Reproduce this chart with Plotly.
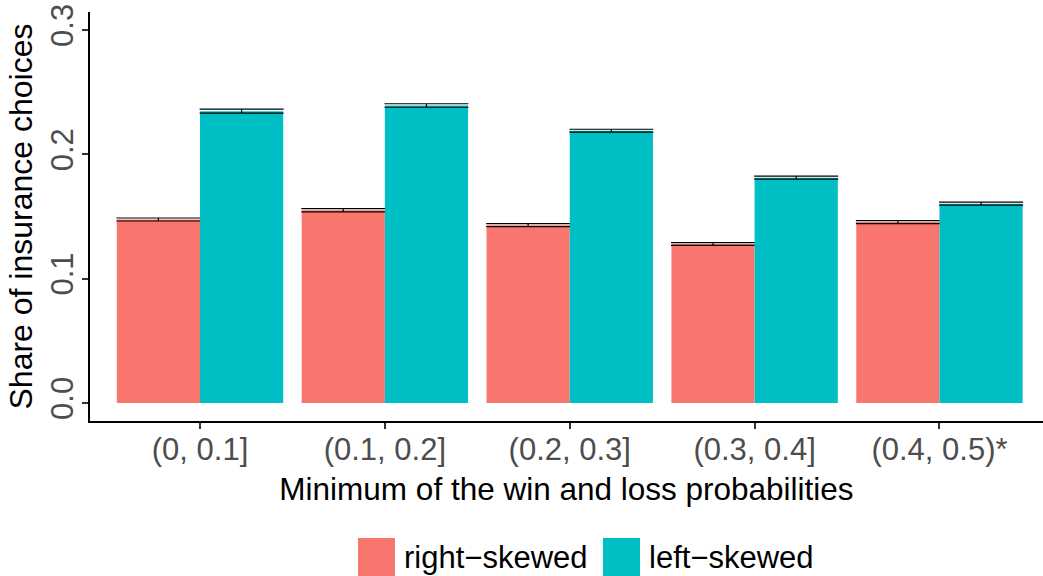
import plotly.graph_objects as go

categories = ["(0, 0.1]", "(0.1, 0.2]", "(0.2, 0.3]", "(0.3, 0.4]", "(0.4, 0.5)*"]
right_skewed = [0.1476, 0.1550, 0.1430, 0.1279, 0.1455]
left_skewed = [0.2347, 0.2393, 0.2190, 0.1812, 0.1603]
right_err = [0.0012, 0.0013, 0.0012, 0.0011, 0.0012]
left_err = [0.0016, 0.0014, 0.0012, 0.0012, 0.0012]

RED = "#F8766D"
TEAL = "#00BFC4"
FONT = "Liberation Sans, Arial, sans-serif"

x_pos = list(range(1, len(categories) + 1))

fig = go.Figure()
fig.add_trace(go.Bar(x=x_pos, y=right_skewed, name="right\u2212skewed", marker_color=RED,
                     marker_line_width=0,
                     error_y=dict(type="data", array=right_err, width=42, thickness=1.2, color="black"),
                     showlegend=False))
fig.add_trace(go.Bar(x=x_pos, y=left_skewed, name="left\u2212skewed", marker_color=TEAL,
                     marker_line_width=0,
                     error_y=dict(type="data", array=left_err, width=42, thickness=1.2, color="black"),
                     showlegend=False))

L, T, B = 90, 12, 155
PW, PH = 1043 - L, 576 - T - B

fig.update_layout(
    width=1043, height=576,
    margin=dict(l=L, r=0, t=T, b=B, autoexpand=False),
    plot_bgcolor="white", paper_bgcolor="white",
    barmode="group", bargap=0.1, bargroupgap=0,
    font=dict(family=FONT, color="black"),
)
fig.update_xaxes(
    range=[0.405, 5.56], tickmode="array", tickvals=x_pos, ticktext=categories,
    showline=True, linecolor="black", linewidth=1.5, showgrid=False, zeroline=False,
    ticks="outside", ticklen=6, tickwidth=1.5, tickcolor="#333333", automargin=False,
    ticklabelstandoff=-6,
    tickfont=dict(size=31, color="#4D4D4D", family=FONT),
    title=dict(text="Minimum of the win and loss probabilities", font=dict(size=31.5, color="black"), standoff=12),
)
fig.update_yaxes(
    range=[-0.0145, 0.3145], tickmode="array", tickvals=[0, 0.1, 0.2, 0.3],
    ticktext=["0.0", "0.1", "0.2", "0.3"], tickangle=-90,
    showline=True, linecolor="black", linewidth=1.5, showgrid=False, zeroline=False,
    ticks="outside", ticklen=6, tickwidth=1.5, tickcolor="#333333", automargin=False,
    ticklabelstandoff=-3,
    tickfont=dict(size=31, color="#4D4D4D", family=FONT),
    title=dict(text="Share of insurance choices", font=dict(size=32, color="black"), standoff=3),
)

# Legend drawn at the bottom (large keys as in the reference)
legend_items = [("right\u2212skewed", RED, 358), ("left\u2212skewed", TEAL, 603)]
for label, color, x0 in legend_items:
    fig.add_shape(type="rect", xref="paper", yref="paper",
                  x0=(x0 - L) / PW, x1=(x0 + 37 - L) / PW,
                  y0=(T + PH - 576) / PH, y1=(T + PH - 538) / PH,
                  fillcolor=color, line_width=0)
    fig.add_annotation(xref="paper", yref="paper", x=(x0 + 44 - L) / PW, y=(T + PH - 557) / PH,
                       text=label, showarrow=False, xanchor="left", yanchor="middle",
                       font=dict(size=31, color="black", family=FONT))

fig.write_html("out.html", config={"displayModeBar": False},
               post_script="document.body.style.margin='0';document.body.style.overflow='hidden';")
